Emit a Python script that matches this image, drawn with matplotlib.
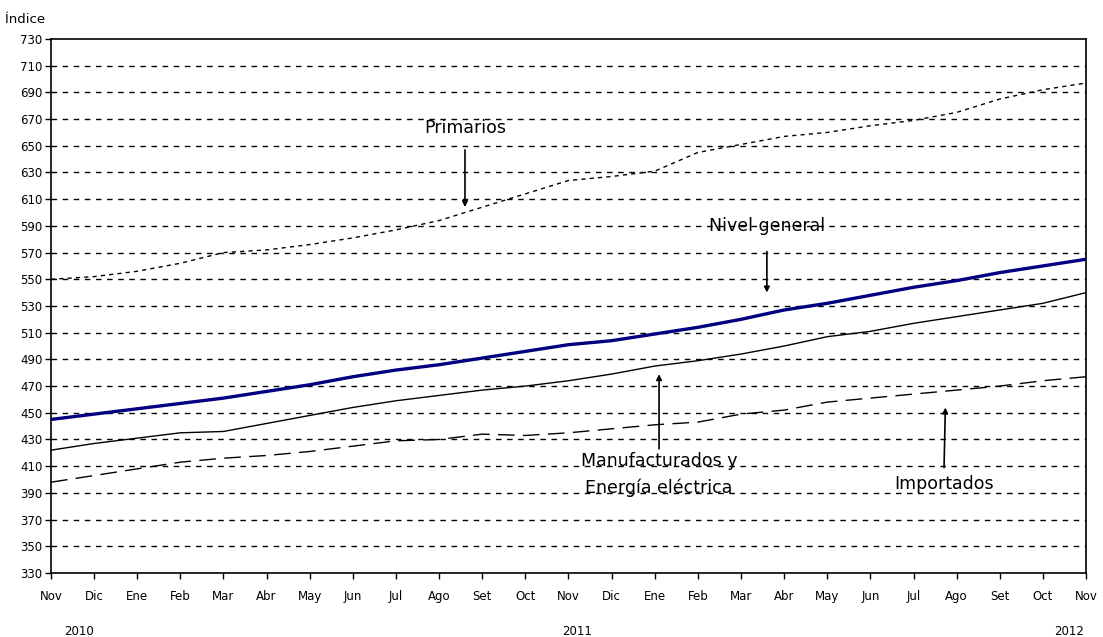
import numpy as np
import matplotlib.pyplot as plt

# Meses (Nov 2010 - Nov 2012)
meses = ["Nov", "Dic", "Ene", "Feb", "Mar", "Abr", "May", "Jun", "Jul", "Ago", "Set", "Oct",
         "Nov", "Dic", "Ene", "Feb", "Mar", "Abr", "May", "Jun", "Jul", "Ago", "Set", "Oct", "Nov"]
anios = ["2010", "2011", "2012"]
anio_pos = [0, 12, 24]

# Series (indices)
nivel_general = [445, 449, 453, 457, 461, 466, 471, 477, 482, 486, 491, 496,
                 501, 504, 509, 514, 520, 527, 532, 538, 544, 549, 555, 560, 565]
manufacturados = [422, 427, 431, 435, 436, 442, 448, 454, 459, 463, 467, 470,
                  474, 479, 485, 489, 494, 500, 507, 511, 517, 522, 527, 532, 540]
importados = [398, 403, 408, 413, 416, 418, 421, 425, 429, 430, 434, 433,
              435, 438, 441, 443, 449, 452, 458, 461, 464, 467, 470, 474, 477]
primarios = [550, 552, 556, 562, 570, 572, 576, 581, 587, 594, 604, 614,
             624, 627, 631, 645, 651, 657, 660, 665, 669, 675, 685, 692, 697]

x = np.arange(len(meses))

plt.rcParams['font.family'] = ['DejaVu Sans']

fig = plt.figure(figsize=(11.03, 6.37), dpi=100)
ax = fig.add_axes([0.0462, 0.1005, 0.9384, 0.8383])

# Grid horizontal
for yv in range(350, 730, 20):
    ax.axhline(yv, color='black', lw=1, ls=(0, (4, 4)), zorder=1)

ax.plot(x, primarios, color='black', lw=1, ls=(0, (3, 3)), zorder=3)
ax.plot(x, importados, color='black', lw=1, ls=(0, (12, 6)), zorder=3)
ax.plot(x, manufacturados, color='black', lw=1, zorder=3)
ax.plot(x, nivel_general, color='#000080', lw=2.4, zorder=4)

ax.set_xlim(0, 24)
ax.set_ylim(330, 730)
ax.set_yticks(range(330, 731, 20))
ax.set_xticks(x)
ax.set_xticklabels(meses, fontsize=8.5)
ax.tick_params(axis='y', labelsize=8.5, length=4, width=1, pad=2)
ax.tick_params(axis='x', length=4, width=1, pad=8)
for s in ax.spines.values():
    s.set_linewidth(1.2)

# Anios
for a, p in zip(anios, anio_pos):
    ax.text(p + (0.65 if p == 0 else 0.2 if p == 12 else -0.4), -0.11, a, transform=ax.get_xaxis_transform(),
            ha='center', va='center', fontsize=8.5)

ax.text(-0.044, 1.025, "Índice", transform=ax.transAxes, ha='left', va='bottom', fontsize=9.5)

# Anotaciones
arw = dict(arrowstyle='-|>', color='black', lw=1.2, mutation_scale=8)
ax.annotate("Primarios", xy=(9.6, 602), xytext=(9.6, 663), ha='center', va='center',
            fontsize=12.5, arrowprops=dict(arw, shrinkA=7))
ax.annotate("Nivel general", xy=(16.6, 538), xytext=(16.6, 590), ha='center', va='center',
            fontsize=12.5, arrowprops=dict(arw, shrinkA=10))
ax.annotate("Manufacturados y\nEnergía eléctrica", xy=(14.1, 481), xytext=(14.1, 404),
            ha='center', va='center', fontsize=12.5, linespacing=1.6,
            arrowprops=dict(arw, shrinkA=0))
ax.annotate("Importados", xy=(20.74, 456), xytext=(20.7, 397), ha='center', va='center',
            fontsize=12.5, arrowprops=dict(arw, shrinkA=3))

fig.savefig("out.png", dpi=100)
